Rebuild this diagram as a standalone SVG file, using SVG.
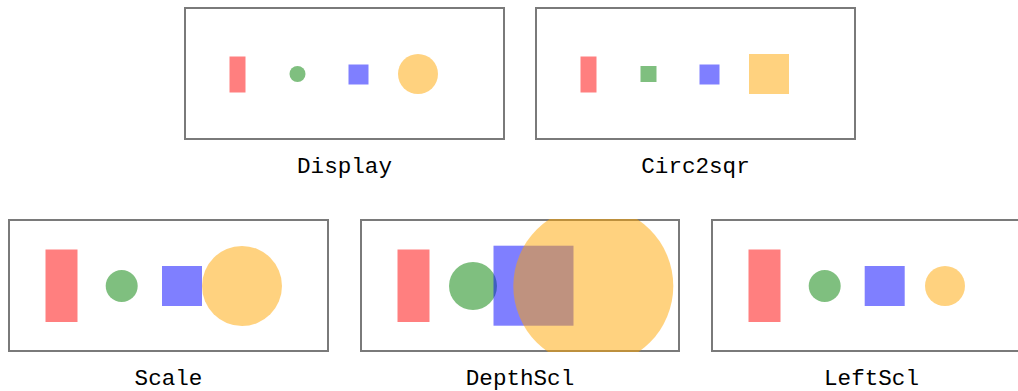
<svg xmlns="http://www.w3.org/2000/svg" width="1018" height="391" viewBox="0 0 1018 391">
<style>
.frame{fill:#ffffff;stroke:#7a7a7a;stroke-width:2}
.r{fill:#ff0000;fill-opacity:0.5}
.g{fill:#008000;fill-opacity:0.5}
.b{fill:#0000ff;fill-opacity:0.5}
.o{fill:#ffa500;fill-opacity:0.5}
.lbl{font-family:"Liberation Mono","DejaVu Sans Mono",monospace;font-size:22.6px;fill:#000;text-anchor:middle}
</style>
<defs>
<clipPath id="clipDepth"><rect x="360" y="219" width="320" height="133"/></clipPath>
</defs>
<rect width="1018" height="391" fill="#ffffff"/>
<g id="display">
<rect class="frame" x="185" y="8" width="319" height="131"/>
<rect class="r" x="229.5" y="56.5" width="16" height="36"/>
<circle class="g" cx="297.5" cy="74" r="8"/>
<rect class="b" x="348.5" y="64.5" width="20" height="20"/>
<circle class="o" cx="418" cy="74" r="20"/>
<text class="lbl" x="344.5" y="173">Display</text>
</g>
<g id="circ2sqr">
<rect class="frame" x="536" y="8" width="319" height="131"/>
<rect class="r" x="580.5" y="56.5" width="16" height="36"/>
<rect class="g" x="640.5" y="66" width="16" height="16"/>
<rect class="b" x="699.5" y="64.5" width="20" height="20"/>
<rect class="o" x="749" y="54" width="40" height="40"/>
<text class="lbl" x="695.5" y="173">Circ2sqr</text>
</g>
<g id="scale">
<rect class="frame" x="9" y="220" width="319" height="131"/>
<rect class="r" x="45.5" y="249.5" width="32" height="72.5"/>
<circle class="g" cx="121.7" cy="286" r="16"/>
<rect class="b" x="162" y="266" width="40" height="40"/>
<circle class="o" cx="242" cy="286" r="40"/>
<text class="lbl" x="168.5" y="385">Scale</text>
</g>
<g id="depthscl">
<rect class="frame" x="361" y="220" width="318" height="131"/>
<g clip-path="url(#clipDepth)">
<rect class="r" x="397.5" y="249.5" width="32" height="72.5"/>
<circle class="g" cx="473" cy="286" r="24"/>
<rect class="b" x="493.5" y="245.7" width="80" height="80"/>
<circle class="o" cx="593.3" cy="286" r="80"/>
</g>
<text class="lbl" x="520" y="385">DepthScl</text>
</g>
<g id="leftscl">
<rect class="frame" x="712" y="220" width="319" height="131"/>
<rect class="r" x="748.5" y="249.5" width="32" height="72.5"/>
<circle class="g" cx="824.7" cy="286" r="16"/>
<rect class="b" x="864.7" y="266" width="40" height="40"/>
<circle class="o" cx="945" cy="286" r="20"/>
<text class="lbl" x="871.5" y="385">LeftScl</text>
</g>
<g id="connectors"></g>
</svg>
